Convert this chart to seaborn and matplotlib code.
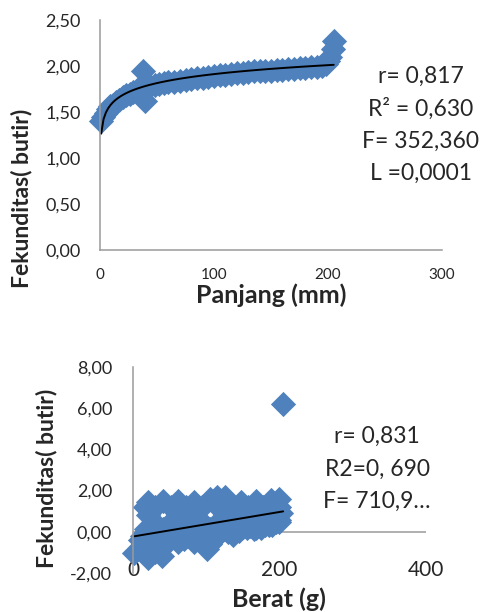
import numpy as np
import pandas as pd
import matplotlib
matplotlib.use("Agg")
import matplotlib.pyplot as plt
import seaborn as sns

# Data: panjang (mm) vs fekunditas
panjang_x = [1, 3, 5, 7, 9, 11, 14, 17, 20, 23,
             26, 29, 32, 35, 38, 39, 40, 44, 48, 52,
             56, 60, 65, 70, 75, 80, 85, 90, 95, 100,
             105, 110, 115, 120, 125, 130, 135, 140, 145, 150,
             155, 160, 165, 170, 175, 180, 185, 190, 195, 198,
             200, 202, 204, 205]
panjang_y = [1.40, 1.45, 1.49, 1.53, 1.56, 1.58, 1.61, 1.63, 1.66, 1.68,
             1.70, 1.72, 1.74, 1.76, 1.95, 1.62, 1.77, 1.78, 1.79, 1.80,
             1.81, 1.82, 1.83, 1.84, 1.85, 1.86, 1.87, 1.87, 1.88, 1.89,
             1.90, 1.90, 1.91, 1.92, 1.92, 1.93, 1.94, 1.94, 1.95, 1.95,
             1.96, 1.96, 1.97, 1.97, 1.98, 1.98, 1.99, 1.99, 2.00, 2.02,
             2.05, 2.10, 2.18, 2.27]

# Data: berat (g) vs fekunditas
berat_x = [20, 41, 62, 83, 105, 115, 126, 147, 168, 189, 200,
           17, 30, 52, 72, 94, 116, 136, 157, 178, 200,
           21, 62, 83, 126, 147, 168, 189, 202,
           28, 52, 72, 94, 116, 136, 157, 178, 199,
           18, 41, 62, 83, 105, 126, 147, 168, 186,
           12, 30, 52, 72, 94, 116, 136,
           14, 41, 62, 83, 105,
           2, 30, 101,
           20, 40,
           120, 130, 140, 150, 155, 160, 170, 175, 180, 185, 190, 195,
           10, 25, 35, 50, 60, 70, 80, 90,
           62, 83, 126, 147, 168,
           20, 41, 62, 83,
           145, 165, 175, 190, 200,
           205]
berat_y = [1.45, 1.50, 1.50, 1.45, 1.60, 1.70, 1.70, 1.45, 1.50, 1.55, 1.60,
           1.20, 1.20, 1.20, 1.20, 1.20, 1.20, 1.20, 1.20, 1.20, 1.20,
           0.80, 0.85, 0.85, 0.85, 0.85, 0.85, 0.85, 0.90,
           0.50, 0.50, 0.50, 0.50, 0.50, 0.50, 0.50, 0.50, 0.55,
           0.15, 0.15, 0.15, 0.15, 0.15, 0.15, 0.20, 0.20, 0.35,
           -0.20, -0.20, -0.20, -0.20, -0.20, -0.10, -0.15,
           -0.55, -0.50, -0.50, -0.50, -0.60,
           -1.05, -1.00, -0.83,
           -1.25, -1.15,
           0.00, 0.00, 0.10, 0.25, 0.20, 0.30, 0.30, 0.25, 0.35, 0.40, 0.45, 0.50,
           -0.40, -0.60, -0.70, -0.40, -0.30, -0.35, -0.30, -0.35,
           0.30, 0.30, 0.30, 0.30, 0.30,
           -0.35, -0.35, -0.35, -0.35,
           0.05, 0.15, 0.20, 0.35, 0.50,
           6.20]

top_xticks = [0, 100, 200, 300]
top_xlabels = ["0", "100", "200", "300"]
top_yticks = [0.0, 0.5, 1.0, 1.5, 2.0, 2.5]
top_ylabels = ["0,00", "0,50", "1,00", "1,50", "2,00", "2,50"]
bot_xticks = [0, 200, 400]
bot_xlabels = ["0", "200", "400"]
bot_yticks = [-2, 0, 2, 4, 6, 8]
bot_ylabels = ["-2,00", "0,00", "2,00", "4,00", "6,00", "8,00"]

top_stats = ["r= 0,817", "R\u00b2 = 0,630", "F= 352,360", "L =0,0001"]
bot_stats = ["r= 0,831", "R2=0, 690", "F= 710,9\u2026"]

sns.set_theme(style="white")
plt.rcParams['font.family'] = ['Lato', 'DejaVu Sans']

blue = "#4F81BD"
grey = "#9A9A9A"

fig = plt.figure(figsize=(4.81, 6.12), dpi=100)

# --- grafik atas: panjang ---
ax1 = fig.add_axes([0.208, 0.5915, 0.711, 0.376])
df1 = pd.DataFrame({"panjang": panjang_x, "fekunditas": panjang_y})
sns.scatterplot(data=df1, x="panjang", y="fekunditas", marker="D", s=165,
                color=blue, linewidth=0, clip_on=False, ax=ax1)
sns.regplot(data=df1, x="panjang", y="fekunditas", logx=True, ci=None,
            scatter=False, color="black", line_kws={"lw": 1.4}, ax=ax1)
ax1.set_xlim(0, 300)
ax1.set_ylim(0, 2.5)
ax1.set_xticks(top_xticks)
ax1.set_xticklabels(top_xlabels, fontsize=11)
ax1.set_yticks(top_yticks)
ax1.set_yticklabels(top_ylabels, fontsize=13)
ax1.tick_params(axis="x", length=0, pad=13)
ax1.tick_params(axis="y", length=0, pad=14)
ax1.set_xlabel("")
ax1.set_ylabel("")

# --- grafik bawah: berat ---
ax2 = fig.add_axes([0.2765, 0.0637, 0.609, 0.3366])
df2 = pd.DataFrame({"berat": berat_x, "fekunditas": berat_y})
ax2.axhline(0, color=grey, lw=1.1, zorder=0.5)
sns.scatterplot(data=df2, x="berat", y="fekunditas", marker="D", s=165,
                color=blue, linewidth=0, clip_on=False, ax=ax2)
sns.regplot(data=df2, x="berat", y="fekunditas", ci=None, scatter=False,
            color="black", line_kws={"lw": 1.4}, ax=ax2)
ax2.set_xlim(0, 400)
ax2.set_ylim(-2, 8)
ax2.set_xticks(bot_xticks)
ax2.set_xticklabels(bot_xlabels, fontsize=15)
ax2.set_yticks(bot_yticks)
ax2.set_yticklabels(bot_ylabels, fontsize=13)
ax2.tick_params(axis="x", length=0, pad=-9.5)
ax2.tick_params(axis="y", length=0, pad=15)
ax2.set_xlabel("")
ax2.set_ylabel("")

for ax in (ax1, ax2):
    for side in ("top", "right"):
        ax.spines[side].set_visible(False)
    ax.spines["left"].set_color(grey)
    ax.spines["left"].set_linewidth(1.1)
    ax.spines["bottom"].set_color(grey)
    ax.spines["bottom"].set_linewidth(1.1)
    ax.set_facecolor("none")
ax2.spines["bottom"].set_visible(False)

# label sumbu
fig.text(0.0457, 0.6765, "Fekunditas( butir)", rotation=90, fontsize=16.5,
         fontweight="bold", ha="center", va="center")
fig.text(0.563, 0.505, "Panjang (mm)", fontsize=18, fontweight="bold",
         ha="center", va="baseline")
fig.text(0.0977, 0.219, "Fekunditas( butir)", rotation=90, fontsize=16.5,
         fontweight="bold", ha="center", va="center")
fig.text(0.58, 0.008, "Berat (g)", fontsize=18, fontweight="bold",
         ha="center", va="baseline")

# statistik
for txt, yy in zip(top_stats, [0.8644, 0.8113, 0.7582, 0.7059]):
    fig.text(0.875, yy, txt, fontsize=16.5, ha="center", va="baseline")
for txt, yy in zip(bot_stats, [0.2757, 0.2227, 0.1694]):
    fig.text(0.7838, yy, txt, fontsize=16.5, ha="center", va="baseline")

fig.savefig("out.png", dpi=100)
